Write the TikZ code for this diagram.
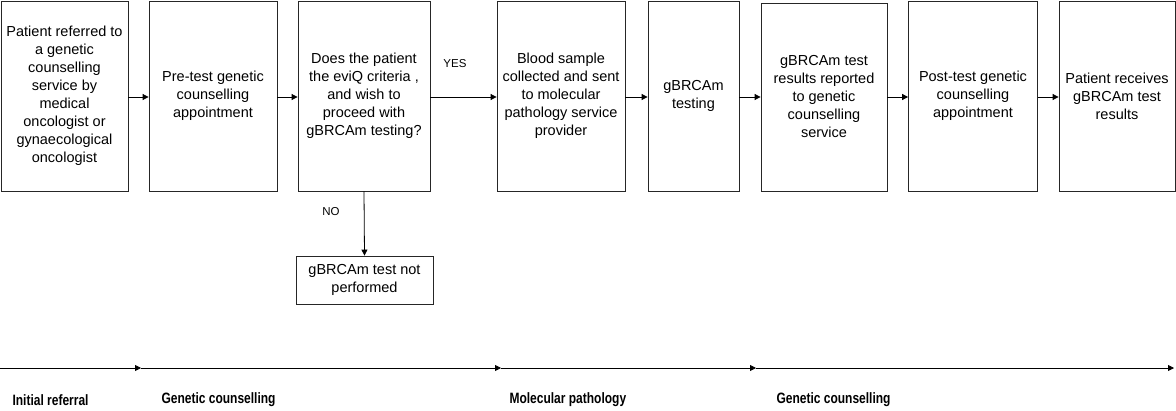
\documentclass[tikz,border=0pt]{standalone}
\usepackage{fontspec}
\setmainfont{Liberation Sans}
\newfontfamily\phasefont[FakeStretch=0.8]{Liberation Sans}
\usetikzlibrary{arrows.meta}
\begin{document}
\begin{tikzpicture}[x=1pt,y=-1pt,
  box/.style={draw=black!85, line width=0.8pt, align=center, inner sep=1pt,
    font=\fontsize{14.5}{18}\selectfont},
  arr/.style={draw=black, line width=0.8pt, -{Triangle[length=6pt,width=6pt]}},
  lbl/.style={font=\fontsize{11.5}{13}\selectfont},
  phase/.style={font=\phasefont\bfseries\fontsize{15}{17}\selectfont, anchor=west}]
\useasboundingbox (0,0) rectangle (1176,410);
\node[box, minimum width=127pt, minimum height=190pt] (b1) at (64.5,96) {Patient referred to\\a genetic\\counselling\\service by\\medical\\oncologist or\\gynaecological\\oncologist};
\node[box, minimum width=128pt, minimum height=190pt] (b2) at (213,96) {Pre-test genetic\\counselling\\appointment};
\node[box, minimum width=132pt, minimum height=190pt] (b3) at (364,96) {Does the patient\\the eviQ criteria ,\\and wish to\\proceed with\\gBRCAm testing?};
\node[box, minimum width=128pt, minimum height=190pt] (b4) at (561,96) {Blood sample\\collected and sent\\to molecular\\pathology service\\provider};
\node[box, minimum width=91pt, minimum height=190pt] (b5) at (693.5,96) {gBRCAm\\testing};
\node[box, minimum width=126pt, minimum height=188pt] (b6) at (824,97) {gBRCAm test\\results reported\\to genetic\\counselling\\service};
\node[box, minimum width=129pt, minimum height=190pt] (b7) at (973,96) {Post-test genetic\\counselling\\appointment};
\node[box, minimum width=116pt, minimum height=190pt] (b8) at (1117,96) {Patient receives\\gBRCAm test\\results};
\node[box, minimum width=137pt, minimum height=48pt] (no) at (364.5,280) {gBRCAm test not\\performed};

\draw[arr] (b1.east |- 0,97) -- (b2.west |- 0,97);
\draw[arr] (b2.east |- 0,97) -- (b3.west |- 0,97);
\draw[arr] (b3.east |- 0,97) -- (b4.west |- 0,97);
\node[lbl] (yes) at (455,64) {YES};
\draw[arr] (b4.east |- 0,97) -- (b5.west |- 0,97);
\draw[arr] (b5.east |- 0,97) -- (b6.west |- 0,97);
\draw[arr] (b6.east |- 0,97) -- (b7.west |- 0,97);
\draw[arr] (b7.east |- 0,97) -- (b8.west |- 0,97);
\draw[arr] (b3.south) -- (no.north);
\node[lbl] (nolbl) at (331,212) {NO};

\coordinate (t0) at (0,368);
\coordinate (t1) at (141,368);
\coordinate (t2) at (501,368);
\coordinate (t3) at (756,368);
\coordinate (t4) at (1174,368);
\draw[arr] (t0) -- (t1);
\draw[arr] (t1) -- (t2);
\draw[arr] (t2) -- (t3);
\draw[arr] (t3) -- (t4);

\node[phase] (p1) at (9,400) {Initial referral};
\node[phase] (p2) at (158,400) {Genetic counselling};
\node[phase] (p3) at (506,400) {Molecular pathology};
\node[phase] (p4) at (773,400) {Genetic counselling};
\end{tikzpicture}
\end{document}
